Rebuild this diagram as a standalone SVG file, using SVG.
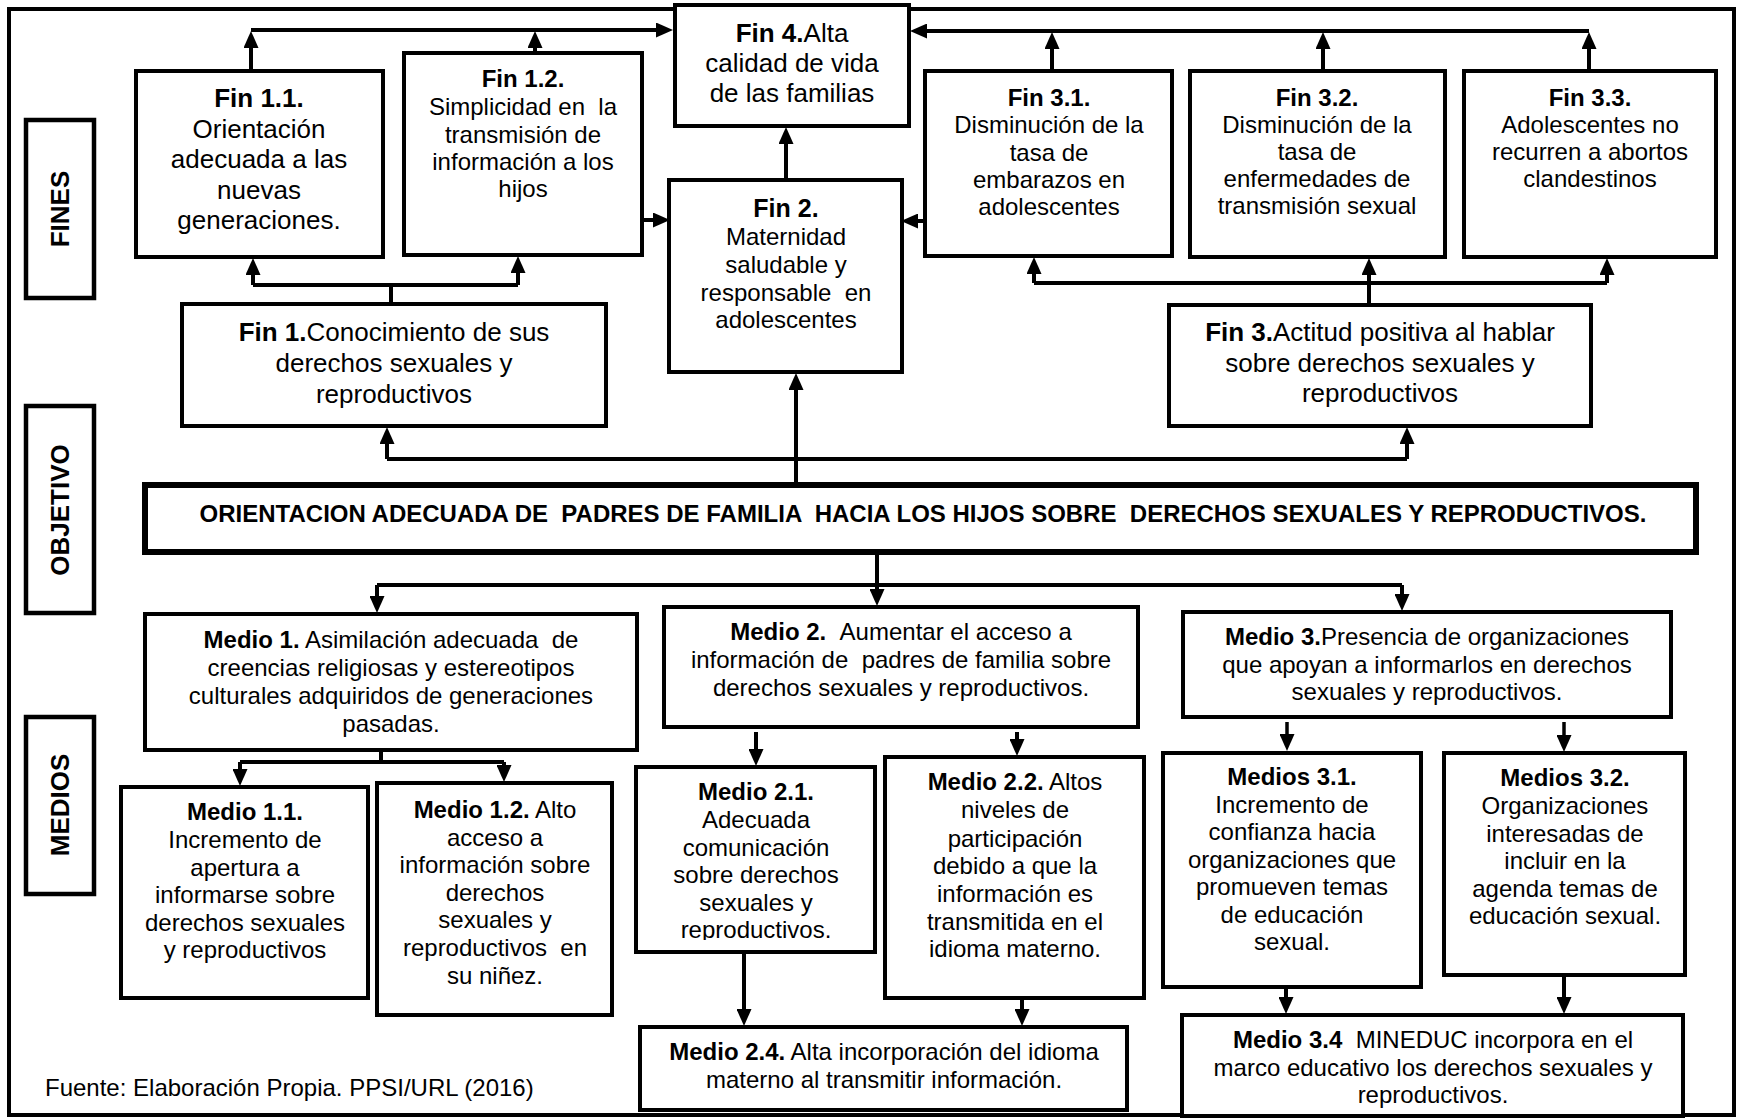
<svg xmlns="http://www.w3.org/2000/svg" width="1738" height="1118" viewBox="0 0 1738 1118">
<style>
text { font-family: "Liberation Sans", Arial, sans-serif; font-size: 24px; fill: #000; text-anchor: middle; }
.s26 { font-size: 26px; }
.b { font-weight: bold; }
.lab { font-weight: bold; font-size: 26px; }
.box { fill: #fff; stroke: #000; stroke-width: 4; }
.lbox { fill: #fff; stroke: #000; stroke-width: 4.5; }
.obj { fill: #fff; stroke: #000; stroke-width: 6; }
.c { fill: none; stroke: #000; stroke-width: 4; }
.c3 { fill: none; stroke: #000; stroke-width: 3.5; }
.frame { fill: none; stroke: #000; stroke-width: 4; }
</style>
<defs>
<marker id="ah" markerUnits="userSpaceOnUse" markerWidth="17" markerHeight="15" refX="8" refY="7.5" orient="auto">
<path d="M0,0 L17,7.5 L0,15 z" fill="#000"/>
</marker>
<clipPath id="clip21"><rect x="636" y="767" width="239" height="173"/></clipPath>
</defs>
<rect class="frame" x="9" y="9" width="1725" height="1106"/>
<g id="connectors">
<path class="c" d="M251,71 V40" marker-end="url(#ah)"/>
<path class="c" d="M251,30 H664" marker-end="url(#ah)"/>
<path class="c" d="M535,53 V40" marker-end="url(#ah)"/>
<path class="c" d="M1589,31 H919" marker-end="url(#ah)"/>
<path class="c" d="M1052,71 V41" marker-end="url(#ah)"/>
<path class="c" d="M1323,71 V41" marker-end="url(#ah)"/>
<path class="c" d="M1589,71 V41" marker-end="url(#ah)"/>
<path class="c" d="M786,180 V136" marker-end="url(#ah)"/>
<path class="c" d="M642,220 H661" marker-end="url(#ah)"/>
<path class="c" d="M925,221 H910" marker-end="url(#ah)"/>
<path class="c" d="M391,304 V285"/>
<path class="c" d="M253,285 H518"/>
<path class="c" d="M253,285 V267" marker-end="url(#ah)"/>
<path class="c" d="M518,285 V265" marker-end="url(#ah)"/>
<path class="c" d="M1034,283 H1607"/>
<path class="c" d="M1034,283 V266" marker-end="url(#ah)"/>
<path class="c" d="M1369,305 V267" marker-end="url(#ah)"/>
<path class="c" d="M1607,283 V267" marker-end="url(#ah)"/>
<path class="c" d="M796,485 V382" marker-end="url(#ah)"/>
<path class="c" d="M387,459 H1407"/>
<path class="c" d="M387,459 V436" marker-end="url(#ah)"/>
<path class="c" d="M1407,459 V436" marker-end="url(#ah)"/>
<path class="c" d="M877,552 V597" marker-end="url(#ah)"/>
<path class="c" d="M377,585 H1402"/>
<path class="c" d="M377,585 V604" marker-end="url(#ah)"/>
<path class="c" d="M1402,585 V602" marker-end="url(#ah)"/>
<path class="c" d="M381,750 V762"/>
<path class="c" d="M240,762 H504"/>
<path class="c" d="M240,762 V777" marker-end="url(#ah)"/>
<path class="c" d="M504,762 V773" marker-end="url(#ah)"/>
<path class="c" d="M756,732 V757" marker-end="url(#ah)"/>
<path class="c" d="M1017,732 V747" marker-end="url(#ah)"/>
<path class="c3" d="M1287,722 V742" marker-end="url(#ah)"/>
<path class="c3" d="M1564,722 V743" marker-end="url(#ah)"/>
<path class="c" d="M744,952 V1017" marker-end="url(#ah)"/>
<path class="c" d="M1022,998 V1017" marker-end="url(#ah)"/>
<path class="c" d="M1286,987 V1005" marker-end="url(#ah)"/>
<path class="c" d="M1564,975 V1005" marker-end="url(#ah)"/>
</g>
<g id="label-fines"><rect class="lbox" x="26" y="120" width="68" height="178"/><text class="lab" transform="translate(69,209) rotate(-90)">FINES</text></g>
<g id="label-objetivo"><rect class="lbox" x="26" y="406" width="68" height="207"/><text class="lab" transform="translate(69,510) rotate(-90)">OBJETIVO</text></g>
<g id="label-medios"><rect class="lbox" x="26" y="717" width="68" height="177"/><text class="lab" transform="translate(69,805) rotate(-90)">MEDIOS</text></g>
<g id="fin4"><rect class="box" x="675" y="5" width="234" height="121"/>
<text class="s26" x="792" y="42"><tspan class="b">Fin 4.</tspan>Alta</text>
<text class="s26" x="792" y="72">calidad de vida</text>
<text class="s26" x="792" y="102">de las familias</text></g>
<g id="fin1-1"><rect class="box" x="136" y="71" width="247" height="186"/>
<text class="s26 b" x="259" y="107">Fin 1.1.</text>
<text class="s26" x="259" y="138">Orientación</text>
<text class="s26" x="259" y="168">adecuada a las</text>
<text class="s26" x="259" y="199">nuevas</text>
<text class="s26" x="259" y="229">generaciones.</text></g>
<g id="fin1-2"><rect class="box" x="404" y="53" width="238" height="202"/>
<text class="b" x="523" y="87">Fin 1.2.</text>
<text x="523" y="115">Simplicidad en &#160;la</text>
<text x="523" y="143">transmisión de</text>
<text x="523" y="170">información a los</text>
<text x="523" y="197">hijos</text></g>
<g id="fin2"><rect class="box" x="669" y="180" width="233" height="192"/>
<text class="b" x="786" y="217" style="font-size:25px">Fin 2.</text>
<text x="786" y="245">Maternidad</text>
<text x="786" y="273">saludable y</text>
<text x="786" y="301">responsable &#160;en</text>
<text x="786" y="328">adolescentes</text></g>
<g id="fin3-1"><rect class="box" x="925" y="71" width="247" height="185"/>
<text class="b" x="1049" y="106">Fin 3.1.</text>
<text x="1049" y="133">Disminución de la</text>
<text x="1049" y="161">tasa de</text>
<text x="1049" y="188">embarazos en</text>
<text x="1049" y="215">adolescentes</text></g>
<g id="fin3-2"><rect class="box" x="1190" y="71" width="255" height="186"/>
<text class="b" x="1317" y="106">Fin 3.2.</text>
<text x="1317" y="133">Disminución de la</text>
<text x="1317" y="160">tasa de</text>
<text x="1317" y="187">enfermedades de</text>
<text x="1317" y="214">transmisión sexual</text></g>
<g id="fin3-3"><rect class="box" x="1464" y="71" width="252" height="186"/>
<text class="b" x="1590" y="106">Fin 3.3.</text>
<text x="1590" y="133">Adolescentes no</text>
<text x="1590" y="160">recurren a abortos</text>
<text x="1590" y="187">clandestinos</text></g>
<g id="fin1"><rect class="box" x="182" y="304" width="424" height="122"/>
<text class="s26" x="394" y="341"><tspan class="b">Fin 1.</tspan>Conocimiento de sus</text>
<text class="s26" x="394" y="372">derechos sexuales y</text>
<text class="s26" x="394" y="403">reproductivos</text></g>
<g id="fin3"><rect class="box" x="1169" y="305" width="422" height="121"/>
<text class="s26" x="1380" y="341"><tspan class="b">Fin 3.</tspan>Actitud positiva al hablar</text>
<text class="s26" x="1380" y="372">sobre derechos sexuales y</text>
<text class="s26" x="1380" y="402">reproductivos</text></g>
<g id="objetivo"><rect class="obj" x="145" y="485" width="1551" height="67"/>
<text class="b" x="923" y="522">ORIENTACION ADECUADA DE &#160;PADRES DE FAMILIA &#160;HACIA LOS HIJOS SOBRE &#160;DERECHOS SEXUALES Y REPRODUCTIVOS.</text></g>
<g id="medio1"><rect class="box" x="145" y="614" width="492" height="136"/>
<text x="391" y="648"><tspan class="b">Medio 1.</tspan> Asimilación adecuada &#160;de</text>
<text x="391" y="676">creencias religiosas y estereotipos</text>
<text x="391" y="704">culturales adquiridos de generaciones</text>
<text x="391" y="732">pasadas.</text></g>
<g id="medio2"><rect class="box" x="664" y="607" width="474" height="120"/>
<text x="901" y="640"><tspan class="b">Medio 2.</tspan> &#160;Aumentar el acceso a</text>
<text x="901" y="668">información de &#160;padres de familia sobre</text>
<text x="901" y="696">derechos sexuales y reproductivos.</text></g>
<g id="medio3"><rect class="box" x="1183" y="612" width="488" height="105"/>
<text x="1427" y="645"><tspan class="b">Medio 3.</tspan>Presencia de organizaciones</text>
<text x="1427" y="673">que apoyan a informarlos en derechos</text>
<text x="1427" y="700">sexuales y reproductivos.</text></g>
<g id="medio1-1"><rect class="box" x="121" y="787" width="247" height="211"/>
<text class="b" x="245" y="820">Medio 1.1.</text>
<text x="245" y="848">Incremento de</text>
<text x="245" y="876">apertura a</text>
<text x="245" y="903">informarse sobre</text>
<text x="245" y="931">derechos sexuales</text>
<text x="245" y="958">y reproductivos</text></g>
<g id="medio1-2"><rect class="box" x="377" y="783" width="235" height="232"/>
<text x="495" y="818"><tspan class="b">Medio 1.2.</tspan> Alto</text>
<text x="495" y="846">acceso a</text>
<text x="495" y="873">información sobre</text>
<text x="495" y="901">derechos</text>
<text x="495" y="928">sexuales y</text>
<text x="495" y="956">reproductivos &#160;en</text>
<text x="495" y="984">su niñez.</text></g>
<g id="medio2-1"><rect class="box" x="636" y="767" width="239" height="185"/>
<text class="b" x="756" y="800">Medio 2.1.</text>
<text x="756" y="828">Adecuada</text>
<text x="756" y="856">comunicación</text>
<text x="756" y="883">sobre derechos</text>
<text x="756" y="911">sexuales y</text>
<text x="756" y="938" clip-path="url(#clip21)">reproductivos.</text></g>
<g id="medio2-2"><rect class="box" x="885" y="757" width="259" height="241"/>
<text x="1015" y="790"><tspan class="b">Medio 2.2.</tspan> Altos</text>
<text x="1015" y="818">niveles de</text>
<text x="1015" y="847">participación</text>
<text x="1015" y="874">debido a que la</text>
<text x="1015" y="902">información es</text>
<text x="1015" y="930">transmitida en el</text>
<text x="1015" y="957">idioma materno.</text></g>
<g id="medio2-4"><rect class="box" x="640" y="1027" width="487" height="83"/>
<text x="884" y="1060"><tspan class="b">Medio 2.4.</tspan> Alta incorporación del idioma</text>
<text x="884" y="1088">materno al transmitir información.</text></g>
<g id="medio3-1"><rect class="box" x="1163" y="753" width="258" height="234"/>
<text class="b" x="1292" y="785">Medios 3.1.</text>
<text x="1292" y="813">Incremento de</text>
<text x="1292" y="840">confianza hacia</text>
<text x="1292" y="868">organizaciones que</text>
<text x="1292" y="895">promueven temas</text>
<text x="1292" y="923">de educación</text>
<text x="1292" y="950">sexual.</text></g>
<g id="medio3-2"><rect class="box" x="1444" y="753" width="241" height="222"/>
<text class="b" x="1565" y="786">Medios 3.2.</text>
<text x="1565" y="814">Organizaciones</text>
<text x="1565" y="842">interesadas de</text>
<text x="1565" y="869">incluir en la</text>
<text x="1565" y="897">agenda temas de</text>
<text x="1565" y="924">educación sexual.</text></g>
<g id="medio3-4"><rect class="box" x="1182" y="1015" width="501" height="101"/>
<text x="1433" y="1048"><tspan class="b">Medio 3.4</tspan> &#160;MINEDUC incorpora en el</text>
<text x="1433" y="1076">marco educativo los derechos sexuales y</text>
<text x="1433" y="1103">reproductivos.</text></g>
<text x="45" y="1096" style="text-anchor:start">Fuente: Elaboración Propia. PPSI/URL (2016)</text>
</svg>
